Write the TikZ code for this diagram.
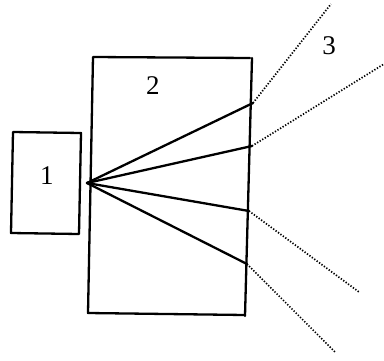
\documentclass[tikz,border=0pt]{standalone}
\usepackage{fontspec}
\setmainfont{Liberation Serif}
\begin{document}
\begin{tikzpicture}[x=1pt,y=-1pt,
  solidline/.style={line width=2.3pt, line join=round, line cap=round},
  ray/.style={line width=2.3pt, line cap=round},
  dotray/.style={line width=1.7pt, dash pattern=on 1.3pt off 1.7pt},
  lbl/.style={font=\fontsize{27}{27}\selectfont, inner sep=0pt}]
\useasboundingbox (0,0) rectangle (384,360);
% box 1
\draw[solidline] (13,132) -- (81,133) -- (79,234) -- (11,233) -- cycle;
% box 2
\draw[solidline] (250,58) -- (93,57) -- (88,313) -- (245,315);
\draw[solidline] (252,58) -- (245,316);
% source and exit points
\coordinate (S) at (87,183);
\coordinate (E1) at (253,103);
\coordinate (E2) at (252,146);
\coordinate (E3) at (249,211);
\coordinate (E4) at (247,264);
\coordinate (D1) at (331,4);
\coordinate (D2) at (384,64);
\coordinate (D3) at (359,292);
\coordinate (D4) at (336,353);
\foreach \e in {E1,E2,E3,E4} \draw[ray] (S) -- (\e);
\foreach \e/\d in {E1/D1,E2/D2,E3/D3,E4/D4} \draw[dotray] (\e) -- (\d);
\node[lbl] (L1) at (47,176) {1};
\node[lbl] (L2) at (153,86) {2};
\node[lbl] (L3) at (329,46) {3};
\end{tikzpicture}
\end{document}
